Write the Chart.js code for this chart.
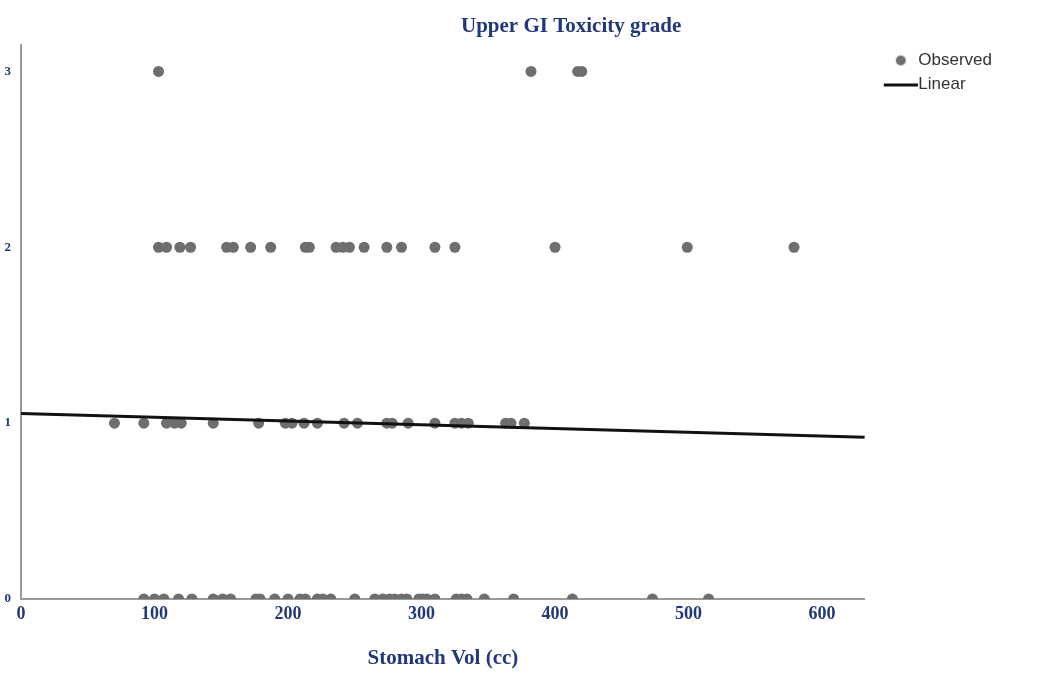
<!DOCTYPE html>
<html>
<head>
<meta charset="utf-8">
<title>Upper GI Toxicity grade</title>
<script src="https://cdn.jsdelivr.net/npm/chart.js@4/dist/chart.umd.min.js"></script>
<style>
  html, body { margin: 0; padding: 0; background: #fff; }
  #wrap { width: 1049px; height: 681px; position: relative; }
</style>
</head>
<body>
<div id="wrap"><canvas id="chart"></canvas></div>
<script>
/* ─── Datos: volumen gástrico (cc) por grado de toxicidad ─── */
const grade0Vol = [92, 100, 107, 118, 128, 144, 151, 157, 176, 179, 190, 200, 209, 213,
  222, 226, 232, 250, 265, 271, 276, 280, 285, 289, 298, 301, 304, 310, 326, 330, 334,
  347, 369, 413, 473, 515];
const grade1Vol = [70, 92, 109, 115, 120, 144, 178, 198, 203, 212, 222, 242, 252, 274,
  278, 290, 310, 325, 330, 335, 363, 367, 377];
const grade2Vol = [103, 109, 119, 127, 154, 159, 172, 187, 213, 216, 236, 241, 246, 257,
  274, 285, 310, 325, 400, 499, 579];
const grade3Vol = [103, 382, 417, 420];

// Recta de ajuste lineal (extremos)
const fitVol = [0, 632];
const fitGrade = [1.055, 0.92];

const xTicks = [0, 100, 200, 300, 400, 500, 600];
const yTicks = [0, 1, 2, 3];

const NAVY = "#22387a";
const SERIF = "'Liberation Serif', 'DejaVu Serif', serif";

/* ─── Construir puntos ─── */
function toPoints(vols, grade) {
  return vols.map((v) => ({ x: v, y: grade }));
}
const observed = [
  ...toPoints(grade0Vol, 0),
  ...toPoints(grade1Vol, 1),
  ...toPoints(grade2Vol, 2),
  ...toPoints(grade3Vol, 3),
];
const linear = fitVol.map((v, i) => ({ x: v, y: fitGrade[i] }));

/* ─── Iconos de la leyenda (canvas con margen transparente a la izquierda) ─── */
function legendIcon(kind) {
  const c = document.createElement("canvas");
  c.width = 54;
  c.height = 12;
  const g = c.getContext("2d");
  if (kind === "dot") {
    g.fillStyle = "#6e6e6e";
    g.beginPath();
    g.arc(37, 6, 5, 0, Math.PI * 2);
    g.fill();
  } else {
    g.fillStyle = "#111";
    g.fillRect(20, 5, 34, 3);
  }
  return c;
}

/* ─── Título del gráfico ─── */
const titlePlugin = {
  id: "plotTitle",
  afterDraw(chart) {
    const ctx = chart.ctx;
    ctx.save();
    ctx.font = "bold 21px " + SERIF;
    ctx.fillStyle = NAVY;
    ctx.textAlign = "center";
    ctx.textBaseline = "middle";
    ctx.fillText("Upper GI Toxicity grade", chart.width * 0.5445, 27);
    ctx.restore();
  },
};

new Chart(document.getElementById("chart"), {
  type: "scatter",
  data: {
    datasets: [
      {
        label: "Observed",
        data: observed,
        order: 1,
        clip: 0,
        pointRadius: 5.5,
        pointHoverRadius: 5.5,
        backgroundColor: "#6e6e6e",
        borderWidth: 0,
      },
      {
        label: "Linear",
        type: "line",
        data: linear,
        order: 0,
        borderColor: "#111",
        borderWidth: 3,
        pointRadius: 0,
        fill: false,
      },
    ],
  },
  options: {
    responsive: true,
    maintainAspectRatio: false,
    animation: false,
    layout: { padding: { top: 45, right: 47, left: 0, bottom: 0 } },
    scales: {
      x: {
        type: "linear",
        min: 0,
        max: 632,
        afterBuildTicks: (s) => { s.ticks = xTicks.map((v) => ({ value: v })); },
        afterFit: (s) => { s.height = 82; },
        grid: { display: false, drawTicks: false },
        border: { color: "#9a9a9a", width: 2 },
        ticks: { color: NAVY, padding: 5, font: { family: SERIF, size: 18, weight: "bold" } },
        title: {
          display: true,
          text: "Stomach Vol (cc)",
          color: NAVY,
          font: { family: SERIF, size: 21, weight: "bold" },
          padding: { top: 0, bottom: 10 },
        },
      },
      y: {
        min: 0,
        max: 3.15,
        afterBuildTicks: (s) => { s.ticks = yTicks.map((v) => ({ value: v })); },
        afterFit: (s) => { s.width = 21; },
        grid: { display: false, drawTicks: false },
        border: { color: "#9a9a9a", width: 2 },
        ticks: { color: NAVY, padding: 10, font: { family: SERIF, size: 13, weight: "bold" } },
      },
    },
    plugins: {
      tooltip: { enabled: false },
      legend: {
        position: "right",
        align: "start",
        labels: {
          usePointStyle: true,
          pointStyleWidth: 38,
          color: "#333",
          font: { family: "'Liberation Sans', Arial, sans-serif", size: 17 },
          padding: 7,
          generateLabels: (chart) =>
            chart.data.datasets.map((d, i) => ({
              text: d.label,
              datasetIndex: i,
              pointStyle: legendIcon(i === 0 ? "dot" : "line"),
              fontColor: "#333",
              lineWidth: 0,
              hidden: false,
            })),
        },
      },
    },
  },
  plugins: [titlePlugin],
});
</script>
</body>
</html>
